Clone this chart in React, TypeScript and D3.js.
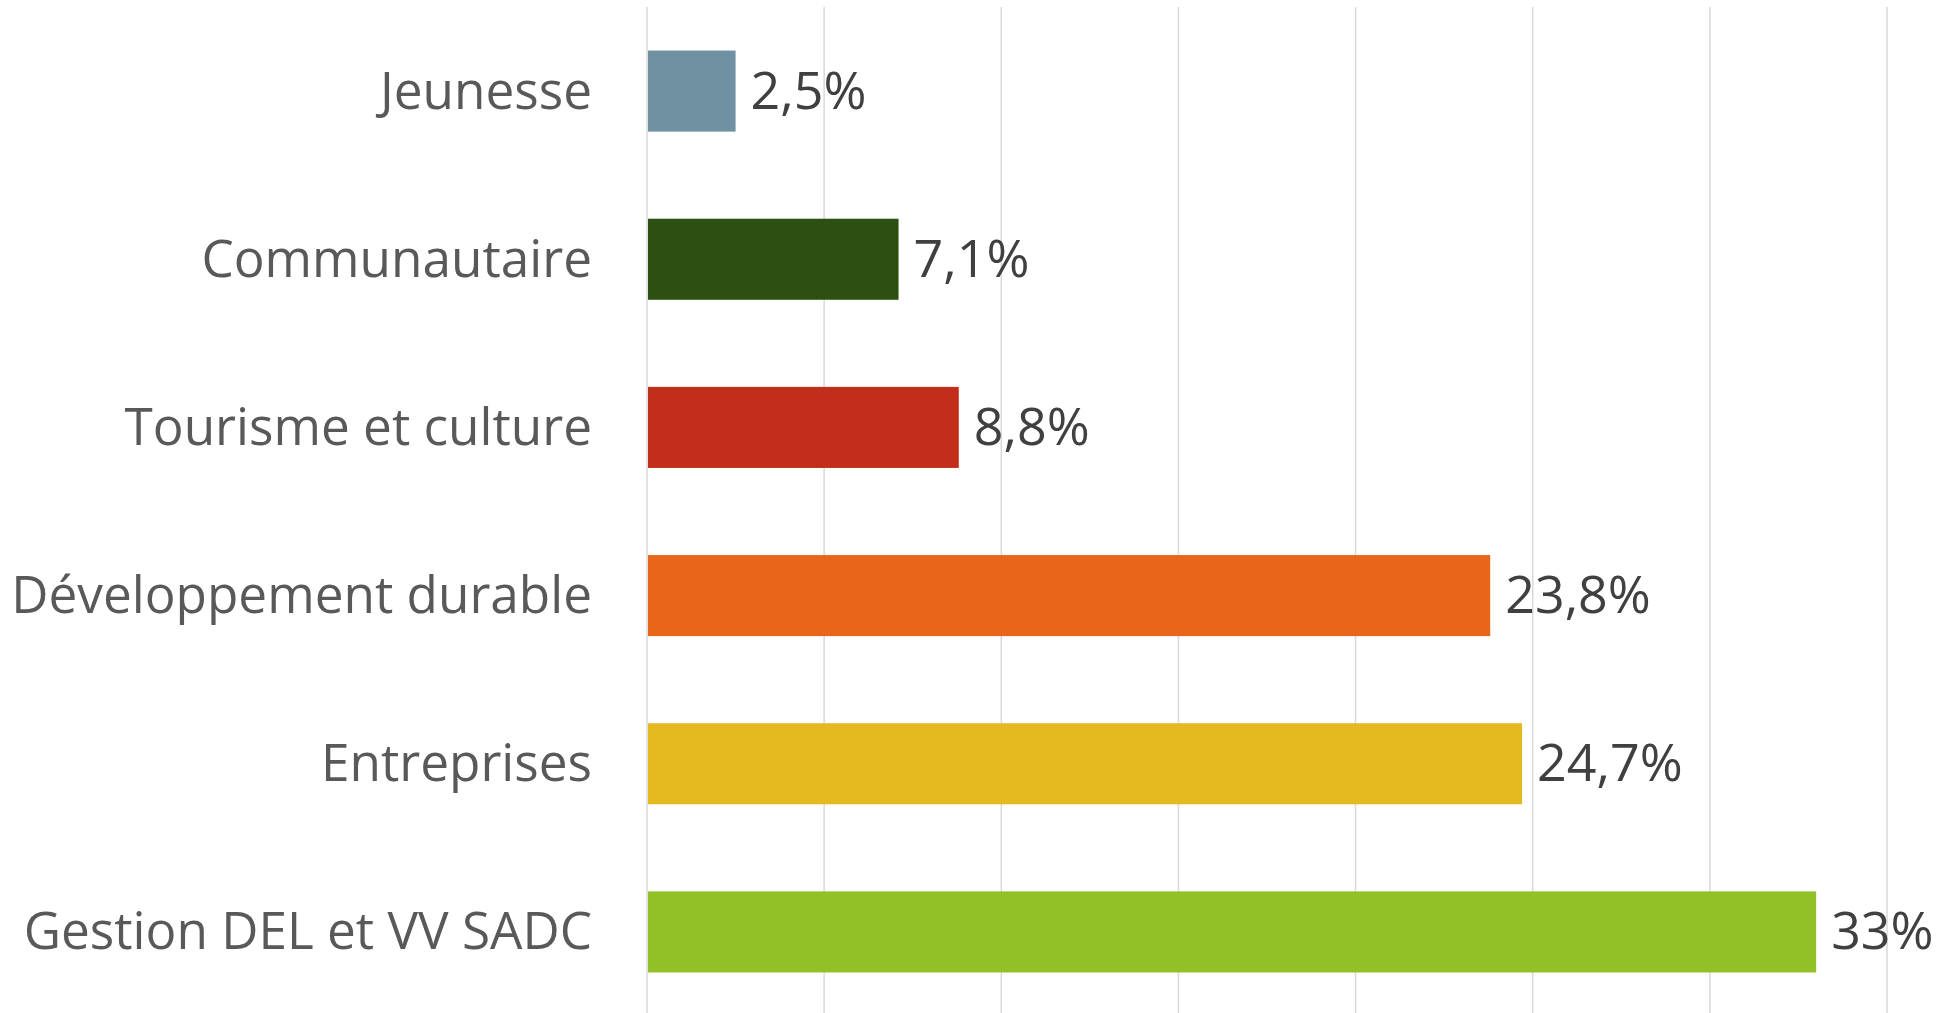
import React from "react";
import * as d3 from "d3";

const categories = [
  "Jeunesse",
  "Communautaire",
  "Tourisme et culture",
  "Développement durable",
  "Entreprises",
  "Gestion DEL et VV SADC",
];
const values = [2.5, 7.1, 8.8, 23.8, 24.7, 33];
const valueLabels = ["2,5%", "7,1%", "8,8%", "23,8%", "24,7%", "33%"];
const barColors = ["#6f91a1", "#2b5011", "#c32e1a", "#e8661a", "#e5b920", "#92c127"];
const gridTicks = [0, 5, 10, 15, 20, 25, 30, 35];

const W = 1952;
const H = 1013;
const FONT = "'Open Sans', 'Noto Sans', sans-serif";

export default function App() {
  const x = d3.scaleLinear().domain([0, 35]).range([647, 1887]);
  const y = d3
    .scaleBand<string>()
    .domain(categories)
    .range([7, 1016])
    .paddingInner(0.518)
    .paddingOuter(0.259);

  return (
    <svg
      width={W}
      height={H}
      style={{ position: "absolute", left: 0, top: 0, background: "#fff" }}
    >
      {gridTicks.map((t) => (
        <line
          key={t}
          x1={x(t)}
          x2={x(t)}
          y1={7}
          y2={H}
          stroke="#d9d9d9"
          strokeWidth={1.5}
        />
      ))}
      {categories.map((c, i) => {
        const yc = (y(c) as number) + y.bandwidth() / 2;
        return (
          <g key={c}>
            <rect
              x={x(0) + 1}
              y={y(c)}
              width={x(values[i]) - x(0) - 1}
              height={y.bandwidth()}
              fill={barColors[i]}
            />
            <text
              x={592}
              y={yc + 17.5}
              textAnchor="end"
              fontFamily={FONT}
              fontSize={51.3}
              fill="#595959"
            >
              {c}
            </text>
            <text
              x={x(values[i]) + 15}
              y={yc + 17.5}
              fontFamily={FONT}
              fontSize={52}
              fill="#404040"
            >
              {valueLabels[i]}
            </text>
          </g>
        );
      })}
    </svg>
  );
}
